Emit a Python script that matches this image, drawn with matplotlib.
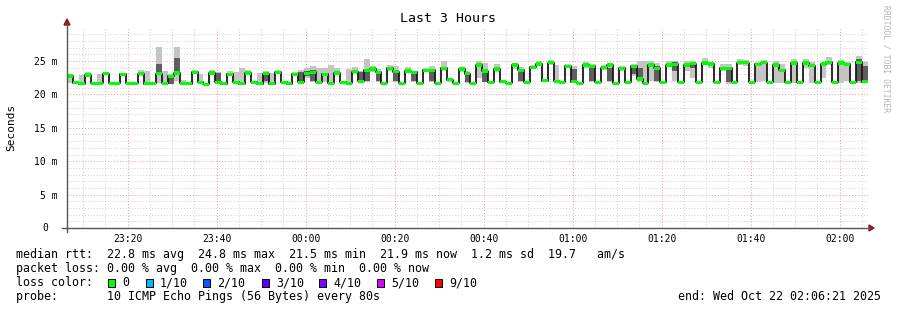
import numpy as np
import matplotlib
matplotlib.use("Agg")
import matplotlib.pyplot as plt
import matplotlib.dates as mdates
from matplotlib.patches import Rectangle, Polygon
from matplotlib.lines import Line2D
from matplotlib.ticker import FixedLocator, NullFormatter
from datetime import datetime, timedelta

# ---------------- data ----------------
start_time = datetime(2025, 10, 21, 23, 6, 21)
end_time = datetime(2025, 10, 22, 2, 6, 21)
step_seconds = 80

median_ms = [
    22.75, 21.75, 21.6, 22.9, 21.7, 21.7, 23.1, 21.7, 21.7, 23.0,
    21.7, 21.7, 23.1, 21.6, 21.7, 23.1, 21.7, 22.7, 23.2, 21.7,
    21.6, 23.3, 21.8, 21.5, 23.2, 21.8, 21.6, 23.0, 21.8, 21.6,
    23.2, 21.8, 21.6, 23.1, 21.6, 23.3, 21.8, 21.6, 23.0, 21.8,
    23.1, 23.3, 21.8, 23.0, 21.7, 23.2, 21.8, 21.7, 23.4, 22.0,
    23.6, 23.8, 23.3, 21.7, 23.9, 23.4, 21.7, 23.5, 23.3, 21.7,
    23.6, 23.6, 21.7, 23.9, 22.2, 21.7, 23.8, 23.1, 21.7, 24.4,
    23.5, 21.8, 23.8, 21.9, 21.7, 24.4, 23.6, 21.8, 24.05, 24.55,
    22.05, 24.75, 22.0, 21.8, 24.2, 21.9, 21.7, 24.4, 24.2, 21.8,
    24.0, 24.4, 21.7, 23.9, 21.8, 24.2, 22.3, 21.7, 24.4, 23.9,
    21.8, 24.4, 24.5, 21.8, 24.4, 24.6, 21.8, 24.7, 24.55, 21.8,
    23.9, 23.9, 21.8, 24.75, 24.75, 21.8, 24.5, 24.75, 21.8, 24.4,
    23.6, 21.8, 24.7, 21.8, 24.7, 24.3, 21.8, 24.55, 24.8, 21.8,
    24.7, 24.5, 21.8, 24.8, 21.9,
]

smoke_lo_ms = [
    21.7, 21.6, 21.5, 22.6, 21.6, 21.6, 22.9, 21.6, 21.6, 22.8,
    21.6, 21.6, 22.8, 21.5, 21.6, 21.7, 21.6, 21.5, 22.0, 21.6,
    21.5, 23.0, 21.6, 21.4, 22.9, 21.7, 21.5, 22.8, 21.6, 21.5,
    22.9, 21.7, 21.5, 21.7, 21.5, 23.0, 21.7, 21.5, 22.8, 21.7,
    22.5, 21.8, 21.7, 21.8, 21.6, 22.9, 21.7, 21.6, 23.0, 21.7,
    21.9, 23.4, 21.9, 21.6, 23.5, 21.8, 21.6, 23.2, 21.8, 21.6,
    23.3, 21.8, 21.6, 23.5, 21.9, 21.6, 23.4, 21.7, 21.6, 22.5,
    21.8, 21.7, 23.4, 21.7, 21.6, 23.8, 21.8, 21.7, 23.8, 24.2,
    21.9, 24.4, 21.8, 21.7, 23.9, 21.7, 21.6, 24.0, 21.9, 21.7,
    23.7, 21.8, 21.6, 23.5, 21.7, 22.8, 21.9, 21.6, 22.0, 21.8,
    21.7, 24.1, 22.0, 21.7, 23.5, 22.5, 21.7, 24.4, 23.9, 21.7,
    23.5, 21.6, 21.7, 24.4, 24.3, 21.7, 21.8, 22.0, 21.7, 21.7,
    21.7, 21.7, 21.7, 21.7, 24.0, 21.7, 21.7, 22.5, 24.4, 21.7,
    21.7, 22.0, 21.7, 21.7, 21.7,
]

smoke_hi_ms = [
    23.0, 21.9, 22.9, 23.3, 21.8, 23.0, 23.4, 21.8, 21.8, 23.2,
    21.8, 21.8, 23.6, 23.5, 21.8, 27.1, 23.5, 23.0, 27.1, 22.1,
    21.8, 23.7, 23.1, 21.7, 23.6, 23.4, 21.8, 23.5, 23.4, 23.9,
    23.6, 22.0, 23.2, 23.5, 23.2, 23.6, 22.0, 21.8, 23.4, 23.6,
    23.9, 24.2, 24.0, 23.9, 24.4, 24.0, 22.0, 23.8, 24.1, 23.5,
    25.3, 24.3, 23.8, 21.9, 24.4, 24.3, 21.9, 24.1, 23.5, 21.9,
    24.0, 24.3, 21.9, 25.0, 22.5, 21.9, 24.1, 23.5, 21.9, 25.0,
    24.7, 22.0, 24.6, 22.2, 21.9, 24.7, 24.1, 22.0, 24.4, 25.0,
    22.3, 25.1, 24.4, 22.0, 24.6, 24.3, 21.9, 24.8, 24.5, 22.0,
    24.4, 24.7, 21.9, 24.2, 22.0, 24.5, 25.0, 25.0, 25.0, 24.7,
    22.0, 25.0, 25.0, 22.0, 25.0, 25.0, 22.0, 25.5, 24.9, 22.0,
    24.5, 24.6, 22.0, 25.3, 25.1, 22.0, 24.9, 25.1, 22.0, 25.0,
    24.6, 22.0, 25.3, 22.0, 25.3, 24.9, 22.0, 24.9, 25.6, 22.0,
    25.2, 24.9, 22.0, 25.7, 24.8,
]

dark_lo_ms = [
    None, None, None, None, None, None, None, None, None, None,
    None, None, None, None, None, 23.0, None, 21.5, 23.0, None,
    None, None, None, None, None, 21.9, None, None, None, None,
    None, None, None, 22.0, None, None, None, None, None, 21.8,
    22.8, 22.0, None, None, None, None, None, None, None, 21.8,
    22.0, None, 22.0, None, None, 22.0, None, None, 22.0, None,
    None, 22.0, None, None, None, None, None, 21.8, None, None,
    21.9, None, None, None, None, None, 22.0, None, None, None,
    None, None, None, None, None, 22.0, None, None, 22.0, None,
    None, 22.0, None, None, None, 23.0, 22.1, None, None, 22.0,
    None, None, 23.5, None, None, 24.0, None, None, None, None,
    None, 21.8, None, None, None, None, None, None, None, None,
    None, None, None, None, None, None, None, None, None, None,
    None, None, None, 22.0, 21.8,
]

dark_hi_ms = [
    None, None, None, None, None, None, None, None, None, None,
    None, None, None, None, None, 24.5, None, 22.8, 25.5, None,
    None, None, None, None, None, 23.2, None, None, None, None,
    None, None, None, 23.3, None, None, None, None, None, 23.4,
    23.5, 23.6, None, None, None, None, None, None, None, 23.4,
    23.8, None, 23.4, None, None, 23.5, None, None, 23.3, None,
    None, 23.6, None, None, None, None, None, 23.3, None, None,
    23.6, None, None, None, None, None, 23.6, None, None, None,
    None, None, None, None, None, 23.8, None, None, 24.0, None,
    None, 24.0, None, None, None, 24.0, 24.0, None, None, 24.2,
    None, None, 24.8, None, None, 24.8, None, None, None, None,
    None, 23.8, None, None, None, None, None, None, None, None,
    None, None, None, None, None, None, None, None, None, None,
    None, None, None, 25.3, 24.3,
]

y_ticks_ms = [0, 5, 10, 15, 20, 25]
y_tick_labels = ["", "5 m", "10 m", "15 m", "20 m", "25 m"]

stats_rows = [
    "median rtt:  22.8 ms avg  24.8 ms max  21.5 ms min  21.9 ms now  1.2 ms sd  19.7   am/s",
    "packet loss: 0.00 % avg  0.00 % max  0.00 % min  0.00 % now",
    "loss color:",
    "probe:       10 ICMP Echo Pings (56 Bytes) every 80s",
]
loss_labels = ["0", "1/10", "2/10", "3/10", "4/10", "5/10", "9/10"]
loss_colors = ["#00ff00", "#00b8ff", "#0059ff", "#5e00ff", "#7e00ff", "#dd00ff", "#ff0000"]
end_label = "end: Wed Oct 22 02:06:21 2025"

# ---------------- layout ----------------
W, H = 897, 310
MONO = "DejaVu Sans Mono"
fig = plt.figure(figsize=(W / 100, H / 100), dpi=100)
fig.patch.set_facecolor("white")

def fx(x):
    return x / W

def fy(y):
    return 1 - y / H

L, R, B, T = 67, 868, 228, 27.6
ax = fig.add_axes([fx(L), fy(B), (R - L) / W, (B - T) / H])
ax.set_facecolor("white")

n = len(median_ms)
times = [start_time + timedelta(seconds=step_seconds * i) for i in range(n)]
tnum = mdates.date2num(times)
width = step_seconds / 86400.0
med = np.array(median_ms, dtype=float)
lo = np.array(smoke_lo_ms, dtype=float)
hi = np.array(smoke_hi_ms, dtype=float)
dlo = np.array(dark_lo_ms, dtype=float)
dhi = np.array(dark_hi_ms, dtype=float)

# smoke
ax.bar(tnum, hi - lo, bottom=lo, width=width, align="edge",
       color="#c4c4c4", linewidth=0, antialiased=False, zorder=2)
ax.bar(tnum, dhi - dlo, bottom=dlo, width=width, align="edge",
       color="#5e5e5e", linewidth=0, antialiased=False, zorder=3)

# median line
edges = np.append(tnum, tnum[-1] + width)
ax.step(edges, np.append(med, med[-1]), where="post", color="#1a1a1a",
        linewidth=1.3, zorder=4)
# loss-colour band
ax.bar(tnum, np.full(n, 0.46), bottom=med - 0.23, width=width, align="edge",
       color="#00ff00", linewidth=0, antialiased=False, zorder=5)

ax.set_xlim(mdates.date2num(start_time), mdates.date2num(end_time))
ax.set_ylim(0, 30)

# grid
ax.xaxis.set_major_locator(mdates.MinuteLocator(byminute=[0, 20, 40]))
ax.xaxis.set_minor_locator(mdates.MinuteLocator(byminute=[5, 10, 15, 25, 30, 35, 45, 50, 55]))
ax.xaxis.set_major_formatter(mdates.DateFormatter("%H:%M"))
ax.yaxis.set_major_locator(FixedLocator(y_ticks_ms))
ax.yaxis.set_minor_locator(FixedLocator([v for v in range(1, 30) if v % 5]))
ax.set_yticklabels(y_tick_labels)
ax.yaxis.set_minor_formatter(NullFormatter())
ax.set_axisbelow(True)
ax.grid(which="minor", color="#cfcfcf", linestyle=(0, (1, 2)), linewidth=0.7)
ax.grid(which="major", color="#ff8f8f", linestyle=(0, (1, 2)), linewidth=0.7)
ax.tick_params(which="both", length=0)
ax.tick_params(axis="x", pad=4)
ax.tick_params(axis="y", pad=7)
for lab in ax.get_xticklabels() + ax.get_yticklabels():
    lab.set_fontfamily(MONO)
    lab.set_fontsize(7)
    lab.set_color("#000000")
for s in ax.spines.values():
    s.set_visible(False)
ax.text(-22 / (R - L), 0, "0", transform=ax.transAxes, ha="center", va="center",
        fontfamily=MONO, fontsize=7)

# axis lines with arrows
fig.add_artist(Line2D([fx(62), fx(870)], [fy(228), fy(228)], color="#555555", lw=1.0))
fig.add_artist(Line2D([fx(67), fx(67)], [fy(232), fy(23)], color="#555555", lw=1.0))
fig.add_artist(Polygon([[fx(64), fy(25)], [fx(70), fy(25)], [fx(67), fy(19)]],
                       closed=True, color="#8b1a1a"))
fig.add_artist(Polygon([[fx(869), fy(225)], [fx(869), fy(231)], [fx(874), fy(228)]],
                       closed=True, color="#8b1a1a"))

# texts
fig.text(fx(448), fy(19), "Last 3 Hours", ha="center", va="center",
         fontfamily=MONO, fontsize=9.5)
fig.text(fx(11), fy(127), "Seconds", ha="center", va="center", rotation=90,
         fontfamily=MONO, fontsize=8)
fig.text(fx(886), fy(5), "RRDTOOL / TOBI OETIKER", ha="center", va="top",
         rotation=270, fontfamily=MONO, fontsize=5.8, color="#b4b4b4")

row_y = [254.3, 268.3, 282.7, 296.7]
for txt, yy in zip(stats_rows, row_y):
    fig.text(fx(16), fy(yy), txt, ha="left", va="center", fontfamily=MONO, fontsize=8.4)

square_x = [108, 146, 203, 262, 319, 377, 435]
for sx, lab, col in zip(square_x, loss_labels, loss_colors):
    fig.add_artist(Rectangle((fx(sx), fy(row_y[2] + 4)), 7 / W, 8 / H,
                             facecolor=col, edgecolor="#000000", linewidth=0.7))
    fig.text(fx(sx + 14), fy(row_y[2]), lab, ha="left", va="center",
             fontfamily=MONO, fontsize=8.4)

fig.text(fx(881), fy(row_y[3]), end_label, ha="right", va="center",
         fontfamily=MONO, fontsize=8.4)

fig.savefig("out.png", dpi=100, facecolor="white")
